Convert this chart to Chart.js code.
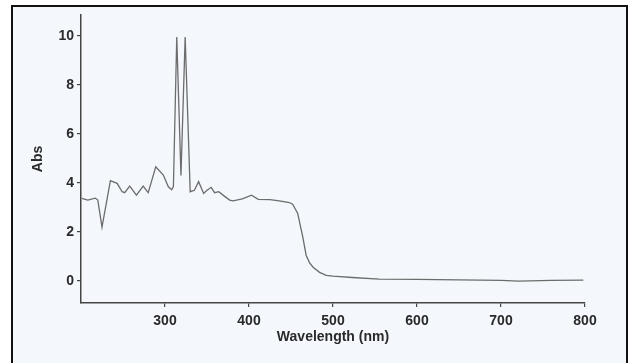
<!DOCTYPE html>
<html>
<head>
<meta charset="utf-8">
<script src="https://cdn.jsdelivr.net/npm/chart.js@4"></script>
<style>
  html, body { margin: 0; background: #fff; overflow: hidden; }
  #frame { position: absolute; left: 11px; top: 5px; width: 613px; height: 365px; border: 2px solid #111; background: #f4f8fc; }
  #absChart { position: absolute; left: 0; top: 0; }
</style>
</head>
<body>
<div id="frame"></div>
<canvas id="absChart" width="630" height="363"></canvas>
<script>
// spectrum
const wavelengths = [201, 208, 217, 220, 225, 235, 243, 249, 252, 258, 266, 274, 280, 289, 298, 304, 308, 310, 314, 319, 324, 330, 335, 340, 346, 350, 355, 359, 364, 371, 377, 381, 392, 403, 411, 425, 436, 448, 452, 458, 464, 468, 472, 476, 484, 492, 500, 523, 555, 600, 650, 700, 721, 760, 798];
const absorbance = [3.37, 3.3, 3.38, 3.3, 2.2, 4.09, 3.98, 3.64, 3.6, 3.87, 3.5, 3.87, 3.6, 4.66, 4.32, 3.84, 3.72, 3.85, 9.95, 4.3, 9.95, 3.64, 3.7, 4.05, 3.57, 3.7, 3.82, 3.6, 3.64, 3.45, 3.3, 3.27, 3.35, 3.5, 3.33, 3.32, 3.27, 3.2, 3.13, 2.75, 1.8, 1.05, 0.75, 0.57, 0.35, 0.23, 0.2, 0.14, 0.07, 0.06, 0.04, 0.02, -0.01, 0.02, 0.03];
const xTicks = [300, 400, 500, 600, 700, 800];
const yTicks = [0, 2, 4, 6, 8, 10];

const labelFont = { family: 'Liberation Sans', size: 14, weight: 'bold' };
const textColor = '#2a2a2a';
const axisColor = '#444';

const ctx = document.getElementById('absChart').getContext('2d');
new Chart(ctx, {
    type: 'line',
    data: {
        datasets: [{
            data: wavelengths.map((w, i) => ({ x: w, y: absorbance[i] })),
            borderColor: '#6c6c6c',
            borderWidth: 1.3,
            pointRadius: 0,
            tension: 0,
            fill: false
        }]
    },
    options: {
        responsive: false,
        animation: false,
        devicePixelRatio: 1,
        layout: { padding: { left: 0, right: 45, top: 15, bottom: 0 } },
        plugins: { legend: { display: false }, tooltip: { enabled: false } },
        scales: {
            x: {
                type: 'linear',
                min: 200,
                max: 800,
                afterBuildTicks: s => { s.ticks = xTicks.map(v => ({ value: v })); },
                afterFit: s => { s.height = 60; },
                grid: { drawOnChartArea: false, drawTicks: true, tickLength: 4, color: axisColor, lineWidth: 1.2 },
                border: { color: axisColor, width: 1.5 },
                ticks: { color: textColor, font: labelFont, padding: 6, maxRotation: 0 },
                title: { display: true, text: 'Wavelength (nm)', color: textColor, font: labelFont, padding: { top: 0, bottom: 17 } }
            },
            y: {
                min: -0.9,
                max: 10.85,
                afterBuildTicks: s => { s.ticks = yTicks.map(v => ({ value: v })); },
                afterFit: s => { s.width = 81; },
                grid: { drawOnChartArea: false, drawTicks: true, tickLength: 4, color: axisColor, lineWidth: 1.2 },
                border: { color: axisColor, width: 1.5 },
                ticks: { color: textColor, font: labelFont, padding: 3 },
                title: { display: true, text: 'Abs', color: textColor, font: labelFont, padding: { top: 30, bottom: 0 } }
            }
        }
    }
});
</script>
</body>
</html>
